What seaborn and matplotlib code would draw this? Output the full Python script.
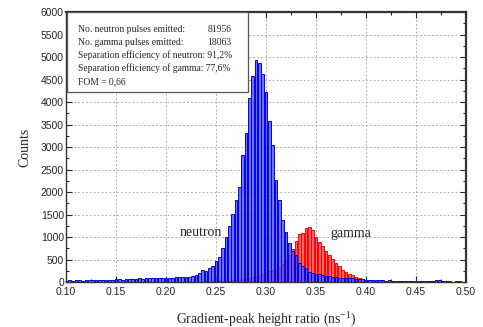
import numpy as np
import matplotlib
matplotlib.use("Agg")
import matplotlib.pyplot as plt
import seaborn as sns
from matplotlib.ticker import MultipleLocator

# bin centres: 0.100 ... 0.500, step 1/300
bin_centers = np.linspace(0.1, 0.5, 121)

neutron_counts = [
    30, 45, 25, 35, 40, 30, 50, 35, 40, 55,
    45, 40, 50, 55, 45, 60, 60, 55, 65, 70,
    60, 75, 80, 70, 85, 90, 80, 95, 80, 85,
    90, 95, 100, 105, 110, 120, 115, 120, 130, 150,
    200, 260, 240, 320, 350, 470, 560, 750, 1000, 1240,
    1520, 1820, 2120, 2820, 3320, 4090, 4570, 4930, 4860, 4620,
    4230, 3570, 3050, 2270, 1820, 1370, 1110, 860, 700, 590,
    430, 360, 310, 225, 200, 187, 172, 160, 140, 130,
    120, 110, 100, 95, 90, 85, 80, 75, 70, 65,
    55, 50, 45, 40, 38, 35, 30, 35, 28, 25,
    30, 22, 20, 25, 18, 20, 15, 22, 18, 15,
    20, 35, 40, 15, 12, 18, 10, 15, 12, 10, 8,
]

gamma_counts = [
    0, 0, 0, 0, 0, 0, 0, 0, 0, 0,
    0, 0, 0, 0, 0, 0, 0, 0, 0, 0,
    0, 0, 0, 0, 0, 0, 0, 0, 0, 0,
    0, 0, 0, 0, 0, 0, 0, 0, 2, 4,
    5, 6, 8, 10, 12, 14, 16, 18, 20, 25,
    35, 45, 55, 70, 85, 100, 120, 140, 160, 180,
    210, 240, 270, 300, 340, 400, 480, 600, 744, 920,
    1070, 1090, 1200, 1220, 1150, 1010, 900, 790, 700, 600,
    510, 430, 350, 270, 220, 180, 150, 120, 95, 75,
    55, 40, 30, 22, 16, 12, 9, 7, 5, 3,
    3, 2, 2, 1, 1, 0, 0, 0, 0, 0,
    0, 0, 0, 0, 0, 0, 0, 0, 0, 0, 0,
]

info_labels = [
    "No. neutron pulses emitted:",
    "No. gamma pulses emitted:",
    "Separation efficiency of neutron: 91,2%",
    "Separation efficiency of gamma: 77,6%",
    "FOM = 0,66",
]
info_values = ["81956", "18063", "", "", ""]

sns.set_style("white")
serif = ["Liberation Serif", "DejaVu Serif"]
plt.rcParams["font.family"] = ["Liberation Sans", "DejaVu Sans"]

step = 1 / 300
edges = list(np.append(bin_centers - step / 2, bin_centers[-1] + step / 2))

fig = plt.figure(figsize=(4.83, 3.27), dpi=100)
ax = fig.add_axes([0.1366, 0.1376, 0.8282, 0.8257])

sns.histplot(x=bin_centers, weights=gamma_counts, bins=edges, shrink=0.72,
             ax=ax, facecolor=(1.0, 0.4, 0.4, 1.0), edgecolor="#ff0000",
             linewidth=0.7, alpha=None, zorder=2)
sns.histplot(x=bin_centers, weights=neutron_counts, bins=edges, shrink=0.72,
             ax=ax, facecolor=(0.3, 0.3, 1.0, 0.8), edgecolor="#0000ee",
             linewidth=0.7, alpha=None, zorder=3)

ax.set_xlim(0.1, 0.5)
ax.set_ylim(0, 6000)
ax.xaxis.set_major_locator(MultipleLocator(0.05))
ax.xaxis.set_minor_locator(MultipleLocator(0.025))
ax.yaxis.set_major_locator(MultipleLocator(500))
ax.yaxis.set_minor_locator(MultipleLocator(250))
ax.xaxis.set_major_formatter(plt.FuncFormatter(lambda v, p: f"{v:.2f}"))
ax.tick_params(axis="both", which="major", direction="out", length=4,
               width=0.8, labelsize=7.5)
ax.tick_params(axis="x", which="major", pad=3.5)
ax.tick_params(axis="y", which="major", pad=1.5)
ax.tick_params(axis="both", which="minor", direction="out", length=2.5, width=0.8)
ax.tick_params(top=True, right=True, which="both", direction="in")
ax.tick_params(bottom=True, left=True, which="both")
ax.grid(True, which="major", linestyle=(0, (2, 2)), color="#b0b0b0", linewidth=0.7)
ax.set_axisbelow(True)
for s in ax.spines.values():
    s.set_color("#333333")
    s.set_linewidth(1.0)
ax.spines["right"].set_linewidth(1.6)
ax.spines["top"].set_linewidth(1.6)

ax.set_xlabel("Gradient-peak height ratio (ns$^{\\mathregular{-1}}$)",
              family=serif, fontsize=9.8, labelpad=9)
ax.set_ylabel("Counts", family=serif, fontsize=10, labelpad=7)

ax.text(0.235, 1100, "neutron", family=serif, fontsize=10, ha="center", va="center", zorder=5)
ax.text(0.385, 1080, "gamma", family=serif, fontsize=10, ha="center", va="center", zorder=5)

# info box
box_x0, box_x1 = 0.1007, 0.2823
ax.add_patch(plt.Rectangle((box_x0, 4230), box_x1 - box_x0, 1765, facecolor="white",
                           edgecolor="#555555", linewidth=0.9, zorder=6))
for i, (lab, val) in enumerate(zip(info_labels, info_values)):
    y = 5620 - i * 290
    ax.text(0.1123, y, lab, family=serif, fontsize=6.9, va="center", zorder=7)
    if val:
        ax.text(0.2657, y, val, family=serif, fontsize=6.9, va="center",
                ha="right", zorder=7)

plt.savefig("out.png", dpi=100)
